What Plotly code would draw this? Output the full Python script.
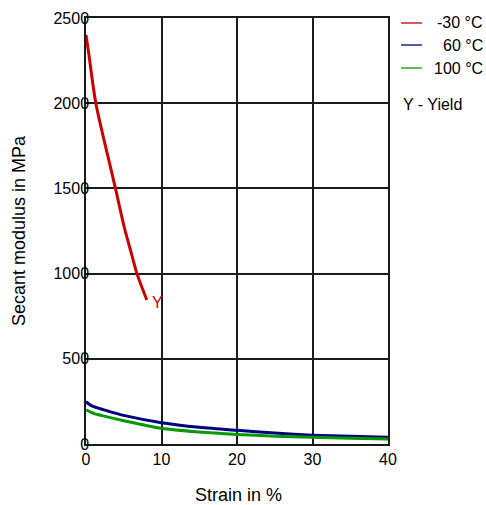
import plotly.graph_objects as go

# ---- data ----
series_names = ["-30 °C", "60 °C", "100 °C"]
series_colors = ["#cc0000", "#000080", "#009900"]

strain_m30 = [0, 0.4, 0.85, 1.3, 2.3, 3.0, 3.9, 5.05, 6.0, 6.75, 8.05]
modulus_m30 = [2400, 2280, 2130, 2000, 1800, 1670, 1500, 1275, 1120, 1000, 846]

strain_60 = [0, 0.7, 1.5, 3, 5, 10, 15, 20, 25, 30, 35, 40]
modulus_60 = [248, 225, 212, 192, 168, 125, 98, 80, 64, 52, 45, 40]

strain_100 = [0, 1, 2, 5, 10, 15, 20, 25, 30, 35, 40]
modulus_100 = [200, 180, 168, 137, 92, 70, 56, 46, 39, 34, 30]

x_ticks = [0, 10, 20, 30, 40]
y_ticks = [0, 500, 1000, 1500, 2000, 2500]
yield_label = "Y"
yield_note = "Y - Yield"

FONT = "Liberation Sans, Arial, sans-serif"
W, H = 486, 505
ML, MR, MT, MB = 86, 98, 18, 61
PW = W - ML - MR
PH = H - MT - MB

fig = go.Figure()
for xs, ys, name, col in [
    (strain_m30, modulus_m30, series_names[0], series_colors[0]),
    (strain_60, modulus_60, series_names[1], series_colors[1]),
    (strain_100, modulus_100, series_names[2], series_colors[2]),
]:
    fig.add_trace(go.Scatter(x=xs, y=ys, mode="lines", name=name,
                             line=dict(color=col, width=3, shape="spline", smoothing=0.8),
                             showlegend=False, hoverinfo="skip"))

# yield marker label at end of red curve
fig.add_annotation(x=strain_m30[-1], y=modulus_m30[-1], text=yield_label,
                   showarrow=False, xanchor="left", yanchor="middle", xshift=3, yshift=-3,
                   font=dict(color=series_colors[0], size=16, family=FONT))

# manual legend (right side, text right-aligned)
def px_x(p):
    return (p - ML) / PW

def px_y(p):
    return (H - MB - p) / PH

legend_y = [23, 45, 68]
for name, col, yy in zip(series_names, series_colors, legend_y):
    fig.add_shape(type="line", xref="paper", yref="paper",
                  x0=px_x(401), x1=px_x(422), y0=px_y(yy), y1=px_y(yy),
                  line=dict(color=col, width=1.3))
    fig.add_annotation(xref="paper", yref="paper", x=px_x(485), y=px_y(yy),
                       text=name, showarrow=False, xanchor="right", yanchor="middle",
                       font=dict(size=16, family=FONT, color="#000"))
fig.add_annotation(xref="paper", yref="paper", x=px_x(401), y=px_y(104),
                   text=yield_note, showarrow=False, xanchor="left", yanchor="middle",
                   font=dict(size=16, family=FONT, color="#000"))

# axis titles
fig.add_annotation(xref="paper", yref="paper", x=px_x(19), y=px_y(231),
                   text="Secant modulus in MPa", textangle=-90, showarrow=False,
                   xanchor="center", yanchor="middle",
                   font=dict(size=18, family=FONT, color="#000"))
fig.add_annotation(xref="paper", yref="paper", x=px_x(238), y=px_y(505),
                   text="Strain in %", showarrow=False, borderpad=0, borderwidth=0,
                   xanchor="center", yanchor="bottom",
                   font=dict(size=18, family=FONT, color="#000"))

axis_common = dict(showgrid=True, gridcolor="#1a1a1a", gridwidth=1.5,
                   zeroline=False, showline=True, linecolor="#1a1a1a", linewidth=1.5,
                   ticks="", tickfont=dict(size=16, family=FONT, color="#000"),
                   fixedrange=True)
fig.update_xaxes(range=[0, 40], tickvals=x_ticks, mirror=True, **axis_common)
fig.update_yaxes(range=[0, 2500], tickvals=y_ticks, mirror=True,
                 ticklabelstandoff=-8, **axis_common)

fig.update_layout(width=W, height=H, autosize=False,
                  margin=dict(l=ML, r=MR, t=MT, b=MB, autoexpand=False),
                  paper_bgcolor="white", plot_bgcolor="white",
                  font=dict(family=FONT, color="#000"))

fig.write_html("out.html", config={"displayModeBar": False},
               post_script="document.body.style.margin='0';document.body.style.overflow='hidden';")
